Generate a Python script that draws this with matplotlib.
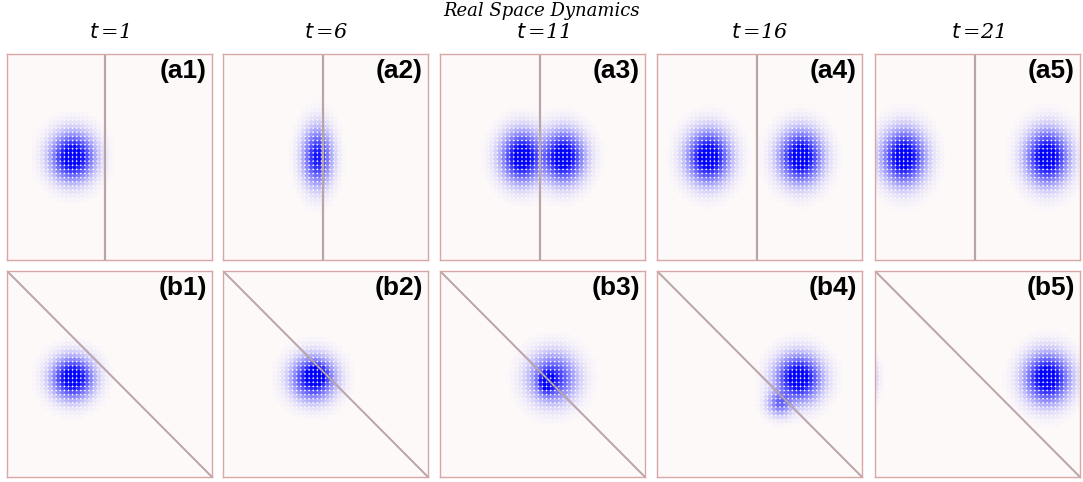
import numpy as np
import matplotlib
matplotlib.use('Agg')
import matplotlib.pyplot as plt

# time steps shown in the columns
times = [1, 6, 11, 16, 21]
row_names = ['a', 'b']

# wavepacket pieces per panel: (x centre, y centre, sigma x, sigma y, weight)
# positions are fractions of the panel, y measured from the top
packets_a = [
    [(0.32, 0.50, 0.056, 0.062, 1.0)],
    [(0.46, 0.50, 0.038, 0.075, 1.0)],
    [(0.40, 0.50, 0.054, 0.066, 1.0), (0.60, 0.50, 0.054, 0.066, 1.0)],
    [(0.25, 0.50, 0.055, 0.068, 1.0), (0.70, 0.50, 0.055, 0.068, 1.0)],
    [(0.14, 0.50, 0.055, 0.070, 1.0), (0.84, 0.50, 0.055, 0.070, 1.0)],
]
packets_b = [
    [(0.32, 0.52, 0.054, 0.054, 1.0)],
    [(0.44, 0.52, 0.056, 0.056, 0.9), (0.46, 0.50, 0.025, 0.025, 0.6)],
    [(0.55, 0.52, 0.062, 0.064, 0.6), (0.52, 0.54, 0.022, 0.030, 0.8)],
    [(0.69, 0.52, 0.058, 0.060, 1.0), (0.60, 0.64, 0.034, 0.034, 0.35)],
    [(0.84, 0.52, 0.058, 0.064, 1.0), (0.00, 0.52, 0.015, 0.050, 0.04)],
]
# fringe period (panel fraction) for the packet squeezed against the wall, 0 = none
fringe_a = [0, 0.04, 0, 0, 0]
barrier_x = [0.48, 0.49, 0.49, 0.49, 0.49]

n_sites = 50
bg = '#fdf9f9'
edge = '#d9a6a6'
wall = '#b9a4a8'

fig = plt.figure(figsize=(10.83, 4.82), dpi=100)

lefts = [7, 223, 440, 657, 875]
tops = [54, 271]
W, H = 1083, 482
pw, ph = 205, 206

site = (np.arange(n_sites) + 0.5) / n_sites
X, Y = np.meshgrid(site, site)


def density(parts, fringe=0):
    d = np.zeros_like(X)
    for cx, cy, sx, sy, w in parts:
        g = w * np.exp(-((X - cx) ** 2) / (2 * sx ** 2) - ((Y - cy) ** 2) / (2 * sy ** 2))
        if fringe:
            g = g * (0.45 + 0.55 * np.cos(np.pi * (X - cx) / fringe) ** 2)
        d += g
    return d


for r, packets in enumerate([packets_a, packets_b]):
    for c in range(5):
        ax = fig.add_axes([lefts[c] / W, 1 - (tops[r] + ph) / H, pw / W, ph / H])
        ax.set_facecolor(bg)
        fr = fringe_a[c] if r == 0 else 0
        d = density(packets[c], fr)
        a = np.clip(1.3 * d, 0, 1) ** 0.7
        cols = np.zeros((X.size, 4))
        cols[:, 2] = 1.0
        cols[:, 3] = a.ravel()
        keep = cols[:, 3] > 0.01
        ax.scatter(X.ravel()[keep], Y.ravel()[keep], s=10, c=cols[keep],
                   marker='o', linewidths=0)
        if r == 0:
            ax.plot([barrier_x[c], barrier_x[c]], [0, 1], color=wall, lw=1.6)
        else:
            ax.plot([0, 1], [0, 1], color=wall, lw=1.4)
        ax.set_xlim(0, 1)
        ax.set_ylim(1, 0)
        ax.set_xticks([])
        ax.set_yticks([])
        for s in ax.spines.values():
            s.set_color(edge)
            s.set_linewidth(1.0)
        ax.text(0.975, 0.975, '(%s%d)' % (row_names[r], c + 1), transform=ax.transAxes,
                ha='right', va='top', fontsize=19, fontweight='bold',
                family='Liberation Sans')
        if r == 0:
            fig.text((lefts[c] + pw / 2) / W, 1 - 33 / H, '$t\\,$=%d' % times[c],
                     ha='center', va='center', fontsize=15, style='italic',
                     family='DejaVu Serif')

fig.text(0.5, 1 - 11 / H, 'Real Space Dynamics', ha='center', va='center',
         fontsize=13, style='italic', family='DejaVu Serif')

fig.savefig('out.png', dpi=100, facecolor='white')
